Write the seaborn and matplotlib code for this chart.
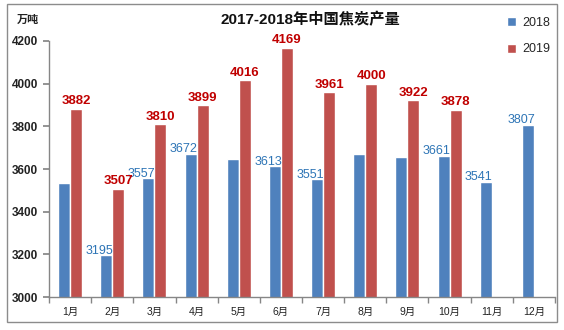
import numpy as np
import pandas as pd
import matplotlib
matplotlib.use("Agg")
import matplotlib.pyplot as plt
from matplotlib.patches import Rectangle
import seaborn as sns

months = [f"{i}月" for i in range(1, 13)]
v2018 = [3536, 3195, 3557, 3672, 3647, 3613, 3551, 3669, 3656, 3661, 3541, 3807]
v2019 = [3882, 3507, 3810, 3899, 4016, 4169, 3961, 4000, 3922, 3878, np.nan, np.nan]
show2018 = [False, True, True, True, False, True, True, False, False, True, True, True]
series = ["2018", "2019"]
yticks = [3000, 3200, 3400, 3600, 3800, 4000, 4200]
title = "2017-2018年中国焦炭产量"
unit = "万吨"

sns.set_theme(style="white")
plt.rcParams['font.family'] = ['Liberation Sans', 'Noto Sans CJK SC', 'DejaVu Sans']

df = pd.DataFrame({
    "month": months * 2,
    "year": [series[0]] * 12 + [series[1]] * 12,
    "value": v2018 + v2019,
}).dropna()

fig = plt.figure(figsize=(5.64, 3.30), dpi=100)
ax = fig.add_axes([49/564, 1-297/330, (555-49)/564, (297-41)/330])

blue = "#4F81BD"
red = "#C0504D"
sns.barplot(data=df, x="month", y="value", hue="year", order=months,
            hue_order=series, palette=[blue, red], width=0.57, gap=0,
            saturation=1, ax=ax, legend=True)

ax.set_ylim(3000, 4200)
ax.set_xlim(-0.5, 11.5)
ax.set_yticks(yticks)
ax.set_yticklabels([str(t) for t in yticks], fontsize=8.5, fontweight="bold", color="#222222")
ax.set_xlabel("")
ax.set_ylabel("")
ax.tick_params(axis="x", length=0, labelsize=7.5, pad=7, colors="#222222")
ax.set_xticks(np.arange(-0.5, 12, 1), minor=True)
ax.tick_params(axis="x", which="minor", length=4, direction="out", color="#868686", bottom=True)
ax.tick_params(axis="y", length=4, direction="out", color="#868686", left=True, pad=4)
for s in ["top", "right"]:
    ax.spines[s].set_visible(False)
for s in ["left", "bottom"]:
    ax.spines[s].set_color("#868686")
    ax.spines[s].set_linewidth(1.0)

# data labels
c18, c19 = ax.containers[0], ax.containers[1]
for bar, val, show in zip(c18, v2018, show2018):
    if show:
        x = bar.get_x() + bar.get_width() / 2
        ax.annotate(str(val), (x, val), xytext=(-5, -1), textcoords="offset points",
                    ha="center", va="bottom", fontsize=9, color="#2E75B6")
for bar in c19:
    val = bar.get_height()
    x = bar.get_x() + bar.get_width() / 2
    ax.annotate(str(int(round(val))), (x, val), xytext=(0, 1), textcoords="offset points",
                ha="center", va="bottom", fontsize=9.5, fontweight="bold", color="#C00000")

fig.text(310/564, 1-20/330, title, ha="center", va="center", fontsize=11,
         fontweight="bold", color="#111111")
fig.text(28/564, 1-20/330, unit, ha="center", va="center", fontsize=8,
         fontweight="bold", color="#222222")

sns.move_legend(ax, loc="center left", bbox_to_anchor=(496/564, 1-36/330),
                bbox_transform=fig.transFigure, frameon=False, title=None,
                handlelength=0.7, handleheight=0.7, handletextpad=0.5,
                labelspacing=1.2, fontsize=9)

fig.patches.append(Rectangle((7/564, 1-322/330), 550/564, 318/330,
                             transform=fig.transFigure, fill=False,
                             edgecolor="#8C8C8C", linewidth=1.0))

fig.savefig("out.png", dpi=100)
